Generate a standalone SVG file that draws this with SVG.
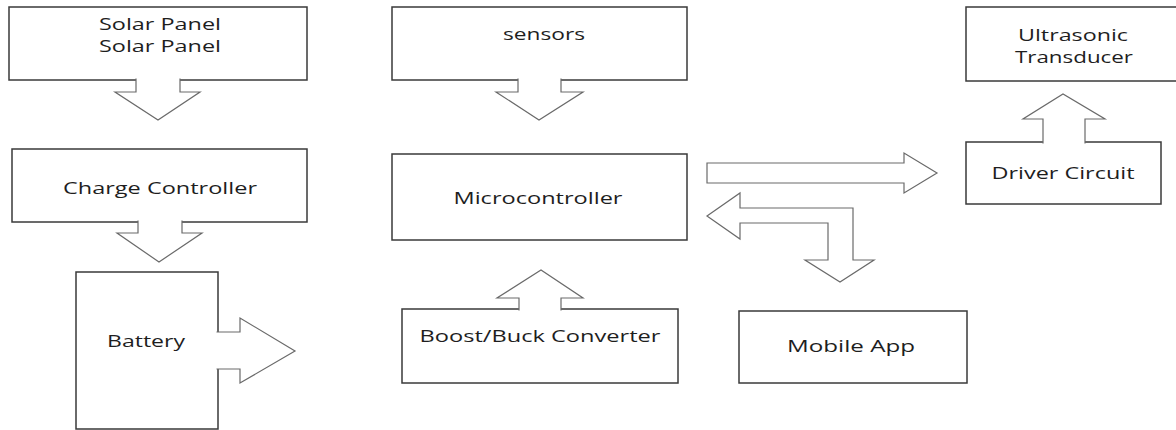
<svg xmlns="http://www.w3.org/2000/svg" width="1176" height="430" viewBox="0 0 1176 430">
<style>
.box{fill:#fff;stroke:#3a3a3a;stroke-width:1.5}
.arr{fill:#fff;stroke:#6a6a6a;stroke-width:1.2;stroke-linejoin:miter}
.t{font-family:"Open Sans","Liberation Sans",sans-serif;font-size:15.5px;fill:#1e1e1e;text-anchor:middle}
</style>
<rect width="1176" height="430" fill="#fff"/>
<g id="solar-panel"><rect class="box" x="9" y="7" width="298" height="73"/><text class="t" x="160" y="30" textLength="122" lengthAdjust="spacingAndGlyphs">Solar Panel</text><text class="t" x="160" y="52" textLength="122" lengthAdjust="spacingAndGlyphs">Solar Panel</text></g>
<g id="charge-controller"><rect class="box" x="12" y="149" width="295" height="73"/><text class="t" x="160" y="194" textLength="194" lengthAdjust="spacingAndGlyphs">Charge Controller</text></g>
<g id="battery"><path class="box" d="M218,332 L218,272 L76,272 L76,429 L218,429 L218,369"/><text class="t" x="146" y="347" textLength="78" lengthAdjust="spacingAndGlyphs">Battery</text></g>
<g id="sensors"><rect class="box" x="392" y="7" width="295" height="73"/><text class="t" x="544" y="40" textLength="82" lengthAdjust="spacingAndGlyphs">sensors</text></g>
<g id="microcontroller"><rect class="box" x="392" y="154" width="295" height="86"/><text class="t" x="538" y="204" textLength="169" lengthAdjust="spacingAndGlyphs">Microcontroller</text></g>
<g id="boost-buck"><rect class="box" x="402" y="309" width="276" height="74"/><text class="t" x="540" y="342" textLength="241" lengthAdjust="spacingAndGlyphs">Boost/Buck Converter</text></g>
<g id="ultrasonic"><rect class="box" x="966" y="7" width="214" height="74"/><text class="t" x="1073" y="41" textLength="110" lengthAdjust="spacingAndGlyphs">Ultrasonic</text><text class="t" x="1074" y="63" textLength="118" lengthAdjust="spacingAndGlyphs">Transducer</text></g>
<g id="driver"><rect class="box" x="966" y="142" width="195" height="62"/><text class="t" x="1063" y="179" textLength="143" lengthAdjust="spacingAndGlyphs">Driver Circuit</text></g>
<g id="mobile-app"><rect class="box" x="739" y="311" width="228" height="72"/><text class="t" x="851" y="352" textLength="128" lengthAdjust="spacingAndGlyphs">Mobile App</text></g>
<g id="connectors">
<path class="arr" d="M136,78.5 L136,92 L115,92 L158,120 L200,92 L180,92 L180,78.5"/>
<path class="arr" d="M138,220.5 L138,233 L117,233 L159,262 L202,233 L182,233 L182,220.5"/>
<path class="arr" d="M216.5,332 L240,332 L240,318 L295,351 L240,383 L240,369 L216.5,369"/>
<path class="arr" d="M518,78.5 L518,92 L496,92 L539,120 L583,92 L561,92 L561,78.5"/>
<path class="arr" d="M519,310.5 L519,298 L497,298 L541,270 L583,298 L561,298 L561,310.5"/>
<path class="arr" d="M1043,143.5 L1043,119 L1023,119 L1063,94 L1105,119 L1085,119 L1085,143.5"/>
<polygon class="arr" points="707,163 904,163 904,153 937,173 904,193 904,183 707,183"/>
<polygon class="arr" points="707,216 740,193 740,208 853,208 853,260 874,260 840,282 805,260 828,260 828,223 740,223 740,239"/>
</g>
</svg>
